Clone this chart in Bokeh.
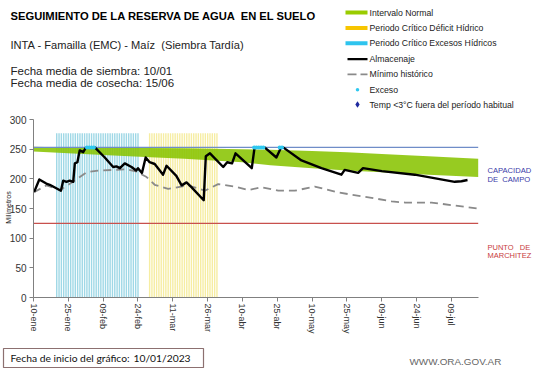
import math
from bokeh.plotting import figure
from bokeh.models import Range1d, FixedTicker, Label
from bokeh.embed import file_html
from bokeh.resources import INLINE

FONT = "Liberation Sans"
NB = "\u00a0"

# ---------------- data (days since 10-ene) ----------------
tick_dias = [0, 15, 30, 45, 60, 75, 90, 105, 120, 135, 150, 165, 180]
tick_labels = ["10-ene", "25-ene", "09-feb", "24-feb", "11-mar", "26-mar", "10-abr",
               "25-abr", "10-may", "25-may", "09-jun", "24-jun", "09-jul"]
y_ticks = [0, 50, 100, 150, 200, 250, 300]
dia_fin = 191.5

dias_alm = [0.3, 2.5, 5.5, 7.0, 11.8, 12.8, 14.2, 15.6, 17.1, 17.8, 18.9, 19.9, 21.4,
            22.5, 23.0, 26.4, 30.7, 34.3, 35.7, 37.2, 39.3, 42.2, 44.2, 45.0, 46.7,
            48.3, 50.0, 52.2, 55.8, 57.3, 61.5, 63.8, 65.9, 68.0, 73.3, 74.2, 76.0,
            81.7, 83.4, 85.5, 87.0, 94.0, 95.2, 99.5, 104.6, 106.6, 107.5, 115.4,
            124.0, 132.6, 134.0, 139.8, 141.9, 150.0, 164.2, 181.4, 184.3, 186.9]
almacenaje = [178, 199, 192, 190, 180, 197, 195, 197, 195, 226, 228, 248, 245,
              252, 253, 253, 236, 220, 221, 218, 226, 220, 214, 218, 210,
              236, 228, 225, 207, 222, 205, 189, 194, 186, 164, 238, 243,
              220, 228, 226, 243, 218, 253, 253, 236, 253, 253, 231,
              218, 207, 215, 210, 218, 213, 207, 195, 196, 198]

dias_min = [0, 5.6, 11.5, 17.8, 22.8, 27.8, 40.0, 44.4, 48.7, 52.2, 58.0, 66.6, 73.8,
            79.5, 86.8, 92.5, 98.2, 105.4, 112.5, 121.1, 131.2, 145.6, 154.2, 160.0,
            171.4, 191.5]
minimo = [177, 189, 181, 197, 211, 214, 216, 212, 203, 190, 183, 189, 180,
          191, 187, 181, 186, 180, 180, 187, 177, 168, 162, 160,
          160, 150]

dias_int = [0, 15, 30, 48, 65, 90, 102, 120, 135, 150, 170, 191.5]
int_sup = [254, 253, 252.5, 252, 251.5, 250, 249, 247, 245, 242, 238, 234]
int_inf = [246, 243, 240, 237, 234, 228, 223, 218, 214, 211, 207, 203]

dias_exceso = [23, 24, 25, 26, 95, 96, 97, 98, 99, 106, 107]
exceso = [253, 253, 253, 253, 253, 253, 253, 253, 253, 253, 253]

periodo_excesos = (10, 45)     # first / last day
periodo_deficit = (50, 79)
altura_periodo = 277

capacidad_campo = 253
punto_marchitez = 125

legend_labels = ["Intervalo Normal", "Periodo Crítico Déficit Hídrico",
                 "Periodo Crítico Excesos Hídricos", "Almacenaje", "Mínimo histórico",
                 "Exceso", "Temp <3°C fuera del período habitual"]

C_GREEN = "#99cc00"
C_BLUE = "#9fd8e6"
C_YELLOW = "#f6eda2"
C_CYAN = "#2ec8f0"

# ---------------- geometry (page pixels) ----------------
W, H = 541, 368
X0, Y0 = 33, 297            # pixel position of (day 0, 0 mm)
PX_DAY = 2.3222             # pixels per day
PX_MM = 0.5933              # pixels per mm


def X(px):
    return (px - X0) / PX_DAY


def Y(py):
    return (Y0 - py) / PX_MM


p = figure(width=W, height=H, output_backend="svg", toolbar_location=None,
           x_range=Range1d(X(0), X(W)), y_range=Range1d(Y(H), Y(0)),
           min_border=0)
p.outline_line_color = None
p.grid.visible = False
p.background_fill_color = "white"

# period bars
exc_days = list(range(periodo_excesos[0], periodo_excesos[1] + 1))
def_days = list(range(periodo_deficit[0], periodo_deficit[1] + 1))
p.vbar(x=exc_days, top=[altura_periodo] * len(exc_days), width=0.6,
       fill_color=C_BLUE, line_color=None)
p.vbar(x=def_days, top=[altura_periodo] * len(def_days), width=0.6,
       fill_color=C_YELLOW, line_color=None)

# normal interval
p.varea(x=dias_int, y1=int_inf, y2=int_sup, fill_color="#87c300", fill_alpha=0.87)

# reference lines
p.segment(x0=[0], x1=[dia_fin], y0=[capacidad_campo], y1=[capacidad_campo],
          line_color="#6f8dc8", line_width=1.2)
p.segment(x0=[0], x1=[dia_fin], y0=[punto_marchitez], y1=[punto_marchitez],
          line_color="#c8504d", line_width=1.2)

p.line(dias_min, minimo, line_color="#8a8a8a", line_width=1.8, line_dash="8 5")
p.line(dias_alm, almacenaje, line_color="black", line_width=2.4, line_join="round")
p.scatter(dias_exceso, exceso, marker="circle", size=4, fill_color=C_CYAN,
          line_color=None)

# axes inside the frame
p.xaxis.fixed_location = 0
p.yaxis.fixed_location = 0
p.yaxis.ticker = FixedTicker(ticks=y_ticks)
p.yaxis.bounds = (0, 300)
p.xaxis.ticker = FixedTicker(ticks=tick_dias)
p.xaxis.bounds = (0, dia_fin)
p.xaxis.major_label_overrides = {d: l for d, l in zip(tick_dias, tick_labels)}
p.xaxis.major_label_orientation = "vertical"
for ax in (p.xaxis, p.yaxis):
    ax.axis_line_color = "#808080"
    ax.major_tick_line_color = "#808080"
    ax.minor_tick_line_color = None
    ax.major_tick_in = 0
    ax.major_tick_out = 4
    ax.major_label_text_font = FONT
    ax.major_label_text_color = "#333333"
p.yaxis.major_label_text_font_size = "10px"
p.yaxis.major_label_standoff = 3
p.xaxis.major_label_text_font_size = "9px"
p.xaxis.major_label_standoff = 2


def lab(text, px, py, size, color="#111111", bold=False, align="left",
        font=FONT, angle=0.0):
    p.add_layout(Label(x=px, y=H - py, x_units="screen", y_units="screen",
                       text=text, text_font=font, text_font_size=size,
                       text_color=color, text_align=align, text_baseline="middle",
                       text_font_style="bold" if bold else "normal", angle=angle))


# header texts
lab("SEGUIMIENTO DE LA RESERVA DE AGUA " + NB + "EN EL SUELO", 10, 15, "11.2px",
    "#000000", bold=True)
lab("INTA - Famailla (EMC) - Maíz " + NB + "(Siembra Tardía)", 10, 44, "11.1px",
    "#222222")
lab("Fecha media de siembra: 10/01", 10, 70, "11.5px", "#222222")
lab("Fecha media de cosecha: 15/06", 10, 82, "11.5px", "#222222")

# legend (keys drawn at page-pixel positions)
rows = [12, 27.5, 42.8, 58.6, 73.8, 89.2, 104]
key_l, key_r = 345, 367
p.quad(left=[X(key_l)] * 3, right=[X(key_r)] * 3,
       top=[Y(rows[i] - 2) for i in range(3)], bottom=[Y(rows[i] + 2) for i in range(3)],
       fill_color=[C_GREEN, "#f7c500", "#2ec4ee"], line_color=None)
p.segment(x0=[X(347)], x1=[X(key_r)], y0=[Y(rows[3])], y1=[Y(rows[3])],
          line_color="black", line_width=2.2)
p.segment(x0=[X(347), X(360)], x1=[X(356), X(key_r)], y0=[Y(rows[4])] * 2,
          y1=[Y(rows[4])] * 2, line_color="#8a8a8a", line_width=1.8)
p.scatter([X(357)], [Y(rows[5])], marker="circle", size=3.5, fill_color=C_CYAN,
          line_color=None)
p.scatter([X(357)], [Y(rows[6])], marker="diamond", size=6.5, fill_color="#1f2a9f",
          line_color=None)
for i, t in enumerate(legend_labels):
    lab(t, 369, rows[i], "8.7px", "#222222")

# side texts
lab("Milímetros", 8, 207, "7px", "#222222", align="center", angle=math.pi / 2)
lab("CAPACIDAD", 487, 170, "7.6px", "#3a3aa8")
lab("DE" + NB + " CAMPO", 487, 179, "7.6px", "#3a3aa8")
lab("PUNTO" + NB + NB + " DE", 487, 247, "7.5px", "#c83c3c")
lab("MARCHITEZ", 487, 255, "7.5px", "#c83c3c")

# footer
p.quad(left=[X(3)], right=[X(203)], top=[Y(348)], bottom=[Y(367)], fill_color=None,
       line_color="#8c7070", line_width=1.2)
lab("Fecha de inicio del gráfico:", 10, 357.5, "10.3px", "#111111", font="Lato")
lab("10/01/2023", 133, 357.5, "10.3px", "#111111", font="Lato")
lab("WWW.ORA.GOV.AR", 409, 361, "9.9px", "#666666")

open("out.html", "w").write(file_html(p, INLINE))
